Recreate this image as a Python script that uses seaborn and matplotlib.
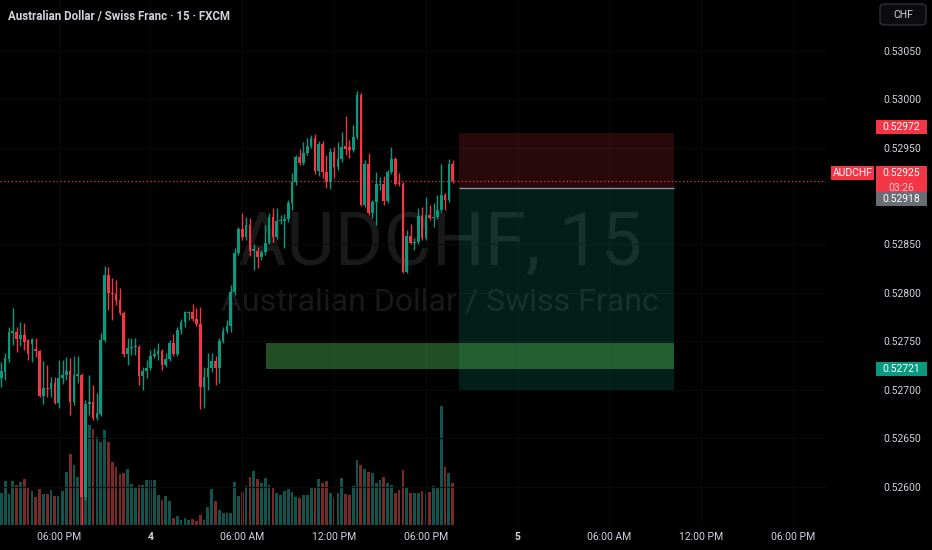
import numpy as np
import pandas as pd
import matplotlib
matplotlib.use("Agg")
import matplotlib.pyplot as plt
import matplotlib.transforms as mtransforms
from matplotlib.patches import Rectangle, FancyBboxPatch
import seaborn as sns

# AUDCHF 15 min candles
opens = [0.52712, 0.52718, 0.52732, 0.52759, 0.52760, 0.52752, 0.52757, 0.52751, 0.52747, 0.52742,
         0.52740, 0.52694, 0.52702, 0.52701, 0.52707, 0.52686, 0.52712, 0.52715, 0.52719, 0.52687,
         0.52714, 0.52715, 0.52589, 0.52685, 0.52687, 0.52671, 0.52675, 0.52751, 0.52819, 0.52800,
         0.52799, 0.52793, 0.52779, 0.52737, 0.52743, 0.52744, 0.52744, 0.52714, 0.52719, 0.52723,
         0.52735, 0.52737, 0.52740, 0.52726, 0.52732, 0.52748, 0.52737, 0.52762, 0.52770, 0.52779,
         0.52780, 0.52773, 0.52768, 0.52703, 0.52713, 0.52723, 0.52730, 0.52723, 0.52750, 0.52761,
         0.52766, 0.52801, 0.52841, 0.52866, 0.52858, 0.52870, 0.52843, 0.52843, 0.52837, 0.52842,
         0.52852, 0.52878, 0.52858, 0.52874, 0.52874, 0.52876, 0.52893, 0.52914, 0.52940, 0.52934,
         0.52944, 0.52952, 0.52960, 0.52926, 0.52954, 0.52925, 0.52914, 0.52945, 0.52930, 0.52938,
         0.52952, 0.52951, 0.52948, 0.52961, 0.53004, 0.52891, 0.52933, 0.52883, 0.52894, 0.52911,
         0.52912, 0.52895, 0.52925, 0.52938, 0.52913, 0.52912, 0.52822, 0.52859, 0.52852, 0.52853,
         0.52879, 0.52857, 0.52880, 0.52877, 0.52878, 0.52886, 0.52901, 0.52896, 0.52933]
highs = [0.52729, 0.52738, 0.52765, 0.52784, 0.52765, 0.52770, 0.52769, 0.52752, 0.52753, 0.52753,
         0.52741, 0.52730, 0.52726, 0.52713, 0.52713, 0.52731, 0.52731, 0.52734, 0.52733, 0.52735,
         0.52735, 0.52717, 0.52690, 0.52715, 0.52705, 0.52697, 0.52759, 0.52828, 0.52827, 0.52815,
         0.52813, 0.52805, 0.52781, 0.52754, 0.52754, 0.52753, 0.52746, 0.52724, 0.52731, 0.52741,
         0.52743, 0.52748, 0.52742, 0.52738, 0.52751, 0.52758, 0.52765, 0.52773, 0.52781, 0.52781,
         0.52789, 0.52784, 0.52785, 0.52724, 0.52738, 0.52738, 0.52735, 0.52754, 0.52765, 0.52772,
         0.52808, 0.52846, 0.52868, 0.52883, 0.52878, 0.52877, 0.52850, 0.52847, 0.52844, 0.52870,
         0.52883, 0.52888, 0.52888, 0.52880, 0.52881, 0.52896, 0.52924, 0.52942, 0.52949, 0.52956,
         0.52960, 0.52963, 0.52964, 0.52957, 0.52957, 0.52942, 0.52950, 0.52951, 0.52956, 0.52966,
         0.52983, 0.52958, 0.52973, 0.53008, 0.53006, 0.52937, 0.52944, 0.52896, 0.52925, 0.52920,
         0.52921, 0.52927, 0.52951, 0.52940, 0.52924, 0.52914, 0.52865, 0.52871, 0.52857, 0.52888,
         0.52889, 0.52899, 0.52891, 0.52893, 0.52901, 0.52933, 0.52903, 0.52938, 0.52937]
lows = [0.52703, 0.52710, 0.52729, 0.52746, 0.52739, 0.52745, 0.52741, 0.52731, 0.52729, 0.52734,
        0.52693, 0.52685, 0.52693, 0.52693, 0.52685, 0.52681, 0.52706, 0.52710, 0.52674, 0.52684,
        0.52707, 0.52561, 0.52586, 0.52674, 0.52669, 0.52669, 0.52673, 0.52749, 0.52782, 0.52772,
        0.52788, 0.52777, 0.52734, 0.52726, 0.52736, 0.52736, 0.52705, 0.52700, 0.52712, 0.52720,
        0.52733, 0.52731, 0.52720, 0.52724, 0.52730, 0.52735, 0.52735, 0.52758, 0.52765, 0.52772,
        0.52771, 0.52766, 0.52680, 0.52681, 0.52700, 0.52718, 0.52705, 0.52707, 0.52748, 0.52759,
        0.52760, 0.52798, 0.52839, 0.52855, 0.52855, 0.52838, 0.52824, 0.52826, 0.52834, 0.52839,
        0.52850, 0.52853, 0.52856, 0.52871, 0.52846, 0.52873, 0.52886, 0.52911, 0.52932, 0.52932,
        0.52942, 0.52950, 0.52923, 0.52921, 0.52919, 0.52908, 0.52907, 0.52919, 0.52927, 0.52935,
        0.52942, 0.52939, 0.52945, 0.52959, 0.52890, 0.52889, 0.52880, 0.52877, 0.52870, 0.52906,
        0.52891, 0.52893, 0.52923, 0.52911, 0.52910, 0.52821, 0.52821, 0.52850, 0.52844, 0.52851,
        0.52855, 0.52855, 0.52875, 0.52868, 0.52876, 0.52884, 0.52886, 0.52894, 0.52913]
closes = [0.52719, 0.52733, 0.52760, 0.52761, 0.52752, 0.52757, 0.52749, 0.52737, 0.52752, 0.52740,
          0.52694, 0.52702, 0.52701, 0.52707, 0.52686, 0.52712, 0.52715, 0.52719, 0.52687, 0.52715,
          0.52716, 0.52589, 0.52685, 0.52687, 0.52671, 0.52676, 0.52751, 0.52819, 0.52800, 0.52799,
          0.52792, 0.52779, 0.52737, 0.52743, 0.52744, 0.52745, 0.52714, 0.52719, 0.52723, 0.52735,
          0.52737, 0.52740, 0.52726, 0.52732, 0.52748, 0.52737, 0.52762, 0.52770, 0.52780, 0.52780,
          0.52773, 0.52768, 0.52703, 0.52713, 0.52723, 0.52730, 0.52723, 0.52750, 0.52761, 0.52766,
          0.52801, 0.52841, 0.52866, 0.52858, 0.52870, 0.52843, 0.52845, 0.52837, 0.52842, 0.52852,
          0.52878, 0.52858, 0.52874, 0.52875, 0.52876, 0.52893, 0.52914, 0.52940, 0.52934, 0.52944,
          0.52952, 0.52960, 0.52926, 0.52954, 0.52925, 0.52914, 0.52945, 0.52930, 0.52938, 0.52951,
          0.52949, 0.52948, 0.52961, 0.53004, 0.52891, 0.52933, 0.52883, 0.52894, 0.52912, 0.52912,
          0.52895, 0.52925, 0.52938, 0.52912, 0.52912, 0.52822, 0.52859, 0.52852, 0.52853, 0.52879,
          0.52857, 0.52880, 0.52877, 0.52878, 0.52886, 0.52901, 0.52896, 0.52933, 0.52915]
volumes = [320, 440, 310, 440, 400, 430, 460, 370, 340, 280,
           360, 310, 310, 350, 290, 290, 340, 530, 710, 600,
           480, 950, 880, 1000, 960, 880, 830, 950, 830, 630,
           580, 510, 520, 560, 410, 380, 400, 400, 450, 450,
           450, 300, 250, 290, 240, 70, 90, 50, 70, 50,
           60, 40, 100, 50, 180, 360, 240, 150, 120, 120,
           120, 430, 290, 330, 390, 480, 540, 460, 420, 470,
           400, 370, 320, 300, 340, 360, 330, 280, 270, 300,
           300, 380, 380, 460, 420, 440, 320, 270, 320, 470,
           310, 300, 390, 650, 600, 560, 530, 520, 420, 450,
           480, 420, 400, 320, 350, 550, 370, 320, 320, 320,
           340, 310, 330, 390, 370, 1190, 580, 520, 420]

# time axis: bar index of each label (bar 0 = 14:15 on the 3rd)
time_ticks = [15, 39, 63, 87, 111, 135, 159, 183, 207]
time_labels = ["06:00 PM", "4", "06:00 AM", "12:00 PM", "06:00 PM", "5", "06:00 AM", "12:00 PM", "06:00 PM"]
price_ticks = [0.52600, 0.52650, 0.52700, 0.52750, 0.52800, 0.52850, 0.52950, 0.53000, 0.53050]

# drawings
pos_start, pos_end = 119.7, 175.9
pos_stop, pos_entry, pos_target = 0.52965, 0.52908, 0.52700
zone_start, zone_end = 69.2, 175.9
zone_low, zone_high = 0.52722, 0.52748

UP, DOWN = "#089981", "#f23645"
VOL_UP, VOL_DOWN = "#13534d", "#782a28"
TXT = "#d1d4dc"

sns.set_style("dark", {"axes.facecolor": "black", "figure.facecolor": "black"})
plt.rcParams["font.family"] = ["Roboto", "DejaVu Sans"]

o = np.array(opens); h = np.array(highs); l = np.array(lows); c = np.array(closes)
idx = np.arange(len(o))
up = c >= o
cols = np.where(up, UP, DOWN)

fig = plt.figure(figsize=(9.32, 5.5), dpi=100, facecolor="black")
ax = fig.add_axes([0, 25 / 550, 826 / 932, 525 / 550])
axv = ax.twinx()
axv.set_zorder(ax.get_zorder() - 1)
ax.patch.set_visible(False)

# volume pane
vol_df = pd.DataFrame({"bar": idx, "volume": volumes, "side": np.where(up, "up", "down")})
sns.barplot(data=vol_df, x="bar", y="volume", hue="side", palette={"up": VOL_UP, "down": VOL_DOWN},
            native_scale=True, dodge=False, errorbar=None, legend=False, width=0.72,
            saturation=1, linewidth=0, ax=axv)
axv.set_ylim(0, 5250)
axv.axis("off")

# candles
ax.vlines(idx, l, h, colors=cols, lw=1, zorder=3)
ax.bar(idx, np.maximum(np.abs(c - o), 0.00001), bottom=np.minimum(o, c), width=0.7,
       color=cols, linewidth=0, zorder=4)

ymin, ymax = 0.525605, 0.531023
ax.set_xlim(-0.34, 215.6)
ax.set_ylim(ymin, ymax)
dy = (ymax - ymin) / 525  # price per pixel

# watermark
ax.text(0.533, 0.495, "AUDCHF, 15", transform=ax.transAxes, ha="center", va="baseline",
        fontsize=53.5, color="#191919", zorder=0)
ax.text(0.533, 0.408, "Australian Dollar / Swiss Franc", transform=ax.transAxes, ha="center",
        va="baseline", fontsize=23, color="#191919", zorder=0)

# long position tool + zone
ax.add_patch(Rectangle((pos_start, pos_entry), pos_end - pos_start, pos_stop - pos_entry,
                       color=DOWN, alpha=0.17, lw=0, zorder=1))
ax.add_patch(Rectangle((pos_start, pos_target), pos_end - pos_start, pos_entry - pos_target,
                       color=UP, alpha=0.2, lw=0, zorder=1))
ax.hlines(pos_entry, pos_start, pos_end, color="#8a8d96", lw=1, zorder=2)
ax.add_patch(Rectangle((zone_start, zone_low), zone_end - zone_start, zone_high - zone_low,
                       color="#4caf50", alpha=0.45, lw=0, zorder=2))

# last price line
ax.axhline(c[-1], color=DOWN, ls=(0, (1, 2)), lw=0.9, zorder=5)

# axes styling
for s in ax.spines.values():
    s.set_visible(False)
ax.set_xticks(time_ticks)
ax.set_xticklabels(time_labels)
for t in ax.get_xticklabels():
    if t.get_text() in ("4", "5"):
        t.set_fontweight("bold")
        t.set_color("white")
ax.yaxis.tick_right()
ax.set_yticks(price_ticks)
ax.set_yticklabels([f"{p:.5f}" for p in price_ticks])
ax.tick_params(axis="x", length=0, pad=5, labelsize=7.5, labelcolor=TXT)
ax.tick_params(axis="y", length=0, pad=41.5, labelsize=7.5, labelcolor=TXT)
ax.grid(True, color="#0a0a0a", lw=0.8)
ax.set_axisbelow(True)

# price tags on the scale
trans = mtransforms.blended_transform_factory(fig.transFigure, ax.transData)


def tag(y, text, face, x0=876, w=51, hpx=14, color="white"):
    ax.add_patch(Rectangle((x0 / 932, y - hpx * dy / 2), w / 932, hpx * dy, transform=trans,
                           color=face, lw=0, clip_on=False, zorder=6))
    ax.text((x0 + w / 2) / 932, y, text, transform=trans, ha="center", va="center",
            fontsize=7.5, color=color, clip_on=False, zorder=7)


tag(0.52971, "0.52972", DOWN)
tag(0.52721, "0.52721", UP)
ax.add_patch(Rectangle((876 / 932, c[-1] - 15 * dy), 51 / 932, 30 * dy, transform=trans,
                       color=DOWN, lw=0, clip_on=False, zorder=6))
ax.text(901.5 / 932, c[-1] + 8 * dy, "0.52925", transform=trans, ha="center", va="center",
        fontsize=7.5, color="white", clip_on=False, zorder=7)
ax.text(901.5 / 932, c[-1] - 6.5 * dy, "03:26", transform=trans, ha="center", va="center",
        fontsize=7.5, color="#ffc9cc", clip_on=False, zorder=7)
tag(c[-1] - 18 * dy, "0.52918", "#6a6d75")
tag(c[-1] + 8 * dy, "AUDCHF", DOWN, x0=831, w=43)

# currency button
fig.add_artist(FancyBboxPatch((880 / 932, 1 - 25 / 550), 46 / 932, 21 / 550,
                              boxstyle="round,pad=0,rounding_size=0.006",
                              transform=fig.transFigure, facecolor="#0c0c0c",
                              edgecolor="#2e3039", lw=1))
fig.text(903 / 932, 1 - 14.5 / 550, "CHF", ha="center", va="center", fontsize=7.5, color=TXT)

fig.text(8 / 932, 1 - 20 / 550, "Australian Dollar / Swiss Franc · 15 · FXCM", fontsize=8.3,
         fontweight="semibold", color=TXT, va="baseline")

fig.savefig("out.png", dpi=100, facecolor="black")
